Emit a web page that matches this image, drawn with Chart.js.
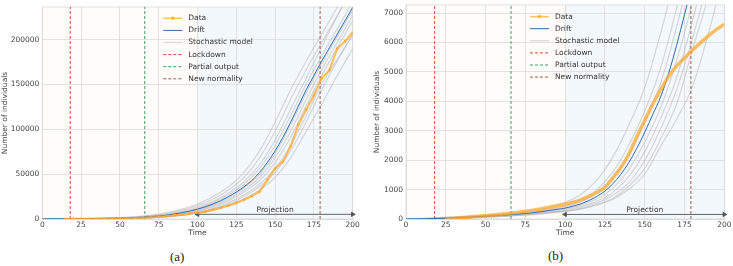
<!DOCTYPE html>
<html>
<head>
<meta charset="utf-8">
<script src="https://cdn.jsdelivr.net/npm/chart.js@4.4.0/dist/chart.umd.min.js"></script>
<style>
body { margin: 0; background: #fff; }
#wrap { position: relative; width: 733px; height: 266px; }
canvas { position: absolute; top: 0; }
.cap { position: absolute; font-family: "Liberation Serif", serif; font-size: 13px; color: #222; }
</style>
</head>
<body>
<div id="wrap">
  <canvas id="chartA" width="366" height="242" style="left:0"></canvas>
  <canvas id="chartB" width="367" height="242" style="left:366px"></canvas>
  <div class="cap" style="left:170px;top:249px">(a)</div>
  <div class="cap" style="left:548px;top:248px">(b)</div>
</div>
<script>
// ---- data ----
const xTicks = [0, 25, 50, 75, 100, 125, 150, 175, 200];
const yTicksA = [0, 50000, 100000, 150000, 200000];
const yTicksB = [0, 1000, 2000, 3000, 4000, 5000, 6000, 7000];

const lockdownDay = 18;
const partialDay = 66;
const normalityDay = 179;
const projectionFrom = 100;
const projectionTo = 200;

const times5 = [0,5,10,15,20,25,30,35,40,45,50,55,60,65,70,75,80,85,90,95,100,
  105,110,115,120,125,130,135,140,145,150,155,160,165,170,175,180,185,190,195,200];
const times10 = [0,10,20,30,40,50,60,70,80,90,100,110,120,130,140,150,160,170,180,190,200];

// panel (a)
const driftA = [20,50,90,130,180,240,320,420,550,700,900,1150,1500,2000,2600,3300,4300,5500,7000,8800,11000,
  13600,16800,20500,25000,30000,36000,43000,52000,63000,76000,91000,108000,126000,144000,160000,176000,191000,206000,221000,236000];
const dataTimesA = [15,20,25,30,35,40,45,50,55,60,65,70,75,80,85,90,95,100,105,110,115,120,125,130,135,140,
  145,150,155,160,165,170,175,180,185,190,195,200];
const dataA = [0,50,100,150,200,300,400,550,750,1000,1400,1900,2500,3200,4000,4900,5900,7000,8300,10200,
  12500,15000,18000,21500,25500,30500,43500,56500,64000,81000,105000,122000,138000,157000,166000,190000,198000,208000];
const stochA = [
  [90,180,320,550,900,1500,2600,4300,7000,11000,16800,25000,36000,52000,76000,108000,144000,176000,206000,236000,266000],
  [66,150,270,470,780,1290,2240,3700,6100,9700,14900,22300,32400,46600,68200,97800,133200,166400,197000,227000,257000],
  [44,122,228,400,670,1100,1900,3160,5260,8440,13080,19760,29000,41600,60800,88000,122400,156800,192000,226000,260000],
  [32,106,204,372,610,1000,1700,2880,4780,7720,12040,18280,27000,38800,56400,82000,115200,150400,182000,212000,242000],
  [0,82,168,300,520,860,1430,2480,4100,6700,10500,16100,24000,34800,49800,73000,104600,140400,173000,203000,233000],
  [0,66,150,270,470,780,1290,2240,3700,6100,9700,14900,22300,32400,46600,68200,97800,133200,166400,197000,227000],
  [0,50,130,240,420,700,1150,2000,3300,5500,8800,13600,20500,30000,43000,63000,91000,126000,160000,191000,221000],
  [0,30,110,200,370,610,1050,1800,2900,4800,7700,12000,18300,27000,38800,56400,82000,115000,150400,178000,205000],
  [0,20,90,180,320,550,900,1500,2600,4300,7000,11000,16800,25000,36000,52000,76000,108000,144000,176000,206000],
  [0,0,70,160,300,510,850,1500,2320,4000,6100,9900,14900,22300,32400,46600,68200,97800,128000,160000,190000]
];

// panel (b)
const driftB = [0,2,5,12,20,30,45,57,70,82,95,110,125,145,165,190,215,250,290,330,370,
  440,520,630,770,950,1200,1520,1920,2400,2950,3550,4150,4950,5900,6950,8000,9200,10500,12000,13500];
const dataTimesB = [25,30,35,40,45,50,55,60,65,70,75,80,85,90,95,100,105,110,115,120,125,130,135,140,
  145,150,155,160,165,170,175,180,185,190,195,200];
const dataB = [0,20,45,65,90,115,140,165,195,225,260,300,350,400,450,500,570,660,770,910,1080,1400,1750,2200,
  2800,3350,3900,4400,4850,5200,5480,5740,5990,6230,6440,6620];
const stochB = [
  [8,24,50,75,101,133,175,229,306,398,564,842,1328,2112,3190,4470,6320,8480,11000,14000,17000],
  [3,13,36,60,84,113,149,198,257,338,456,658,1000,1600,2510,3670,5140,7160,9460,12300,15000],
  [1,9,26,50,77,104,137,180,236,314,412,586,878,1390,2160,3310,4630,6530,8700,11400,14400],
  [0,3,15,39,65,87,116,157,200,266,346,472,686,1050,1680,2620,3790,5380,7370,9700,12600],
  [0,1,10,29,55,80,107,141,184,241,314,426,608,906,1440,2290,3430,4790,6740,8960,11700],
  [0,0,6,22,47,72,98,131,170,222,282,381,539,806,1236,1990,3070,4390,6140,8200,10800],
  [0,0,3,16,40,65,92,121,160,209,266,343,494,702,1120,1720,2720,3900,5760,7600,10000],
  [0,0,2,12,35,62,88,121,151,206,259,340,475,670,1010,1530,2470,3390,4500,6300,8400]
];

// ---- helpers ----
const pts = (ts, vs) => vs.map((v, i) => ({ x: ts[i], y: v }));
const FONT = 'DejaVu Sans';
const FSIZE = 7.5;
const TEXT = '#444';
const GRID = '#dadada';

const decor = {
  id: 'decor',
  beforeDraw(chart) {
    const { ctx, chartArea: a, scales: { x } } = chart;
    const mid = x.getPixelForValue(projectionFrom);
    ctx.save();
    ctx.fillStyle = 'rgba(255,228,205,0.12)';
    ctx.fillRect(a.left, a.top, mid - a.left, a.bottom - a.top);
    ctx.fillStyle = 'rgba(195,222,243,0.2)';
    ctx.fillRect(mid, a.top, a.right - mid, a.bottom - a.top);
    ctx.restore();
  },
  beforeDatasetsDraw(chart) {
    const { ctx, chartArea: a } = chart;
    ctx.save();
    ctx.strokeStyle = GRID;
    ctx.lineWidth = 0.8;
    ctx.strokeRect(a.left, a.top, a.right - a.left, a.bottom - a.top);
    ctx.restore();
  },
  afterDatasetsDraw(chart, args, o) {
    const { ctx, chartArea: a, scales: { x, y } } = chart;
    ctx.save();
    // projection label
    ctx.font = FSIZE + 'px "' + FONT + '"';
    ctx.fillStyle = '#333';
    ctx.textAlign = 'center';
    ctx.textBaseline = 'middle';
    ctx.fillText('Projection', x.getPixelForValue((projectionFrom + projectionTo) / 2), y.getPixelForValue(o.level) - 4.5);
    // legend inside the axes
    let row = 0;
    chart.data.datasets.forEach(ds => {
      if (!ds.label) return;
      const lx = a.left + o.legendX;
      const ly = a.top + o.legendY + row * 12.1;
      ctx.strokeStyle = ds.borderColor;
      ctx.lineWidth = ds.legendWidth || ds.borderWidth;
      ctx.setLineDash(ds.borderDash || []);
      ctx.beginPath();
      ctx.moveTo(lx, ly);
      ctx.lineTo(lx + 19, ly);
      ctx.stroke();
      ctx.setLineDash([]);
      if (ds.legendMarker) {
        ctx.fillStyle = ds.borderColor;
        ctx.beginPath();
        ctx.arc(lx + 9.5, ly, 1.8, 0, Math.PI * 2);
        ctx.fill();
      }
      ctx.fillStyle = '#333';
      ctx.textAlign = 'left';
      ctx.fillText(ds.label, lx + 25, ly);
      row++;
    });
    ctx.restore();
  }
};

function makeChart(id, p) {
  const sets = [];
  sets.push({ label: 'Data', data: pts(p.dataT, p.dataV), borderColor: 'rgba(255,168,40,0.72)',
    backgroundColor: 'rgba(255,168,40,0.72)', borderWidth: p.dataWidth, legendWidth: 1.5,
    pointRadius: p.dataRadius, pointBorderWidth: 0, legendMarker: true,
    cubicInterpolationMode: p.dataSmooth ? 'monotone' : 'default', order: 0 });
  sets.push({ label: 'Drift', data: pts(times5, p.drift), borderColor: '#2d6bb0', borderWidth: 1,
    pointRadius: 0, cubicInterpolationMode: 'monotone', order: 1 });
  p.stoch.forEach((g, i) => sets.push({ label: i === 0 ? 'Stochastic model' : '', data: pts(times10, g),
    borderColor: 'rgba(180,180,180,0.5)', borderWidth: 1.2, pointRadius: 0,
    cubicInterpolationMode: 'monotone', order: 5 }));
  const vline = (label, day, color) => ({ label, data: [{ x: day, y: 0 }, { x: day, y: p.yMax }],
    borderColor: color, borderWidth: 1, borderDash: [3, 2], pointRadius: 0, order: 2 });
  sets.push(vline('Lockdown', lockdownDay, '#e0443a'));
  sets.push(vline('Partial output', partialDay, '#3a9f68'));
  sets.push(vline('New normality', normalityDay, '#9e5a40'));
  sets.push({ label: '', data: [{ x: projectionFrom, y: p.level }, { x: projectionTo, y: p.level }],
    borderColor: '#555', backgroundColor: '#555', borderWidth: 0.9, pointStyle: 'triangle',
    pointRadius: 2.5, pointRotation: [-90, 90], clip: false, order: 3 });

  return new Chart(document.getElementById(id), {
    type: 'line',
    data: { datasets: sets },
    plugins: [decor],
    options: {
      responsive: false,
      devicePixelRatio: 1,
      animation: false,
      events: [],
      layout: { padding: { left: 0, right: p.padRight, top: p.padTop, bottom: 0 } },
      plugins: {
        legend: { display: false },
        tooltip: { enabled: false },
        decor: { level: p.level, legendX: p.legendX, legendY: p.legendY }
      },
      scales: {
        x: {
          type: 'linear', min: 0, max: 200,
          afterBuildTicks: s => { s.ticks = xTicks.map(v => ({ value: v })); },
          afterFit: s => { s.height = 23; s.paddingLeft = 0; s.paddingRight = 0; },
          grid: { color: GRID, lineWidth: 0.8, drawTicks: false },
          border: { color: GRID, width: 0.8 },
          ticks: { padding: 2, color: TEXT, font: { family: FONT, size: FSIZE }, callback: v => String(v) },
          title: { display: true, text: 'Time', color: TEXT, font: { family: FONT, size: FSIZE },
            padding: { top: 0, bottom: 4.5 } }
        },
        y: {
          type: 'linear', min: 0, max: p.yMax,
          afterBuildTicks: s => { s.ticks = p.yTicks.map(v => ({ value: v })); },
          afterFit: s => { s.width = p.yWidth; s.paddingTop = 0; s.paddingBottom = 0; },
          grid: { color: GRID, lineWidth: 0.8, drawTicks: false },
          border: { color: GRID, width: 0.8 },
          ticks: { padding: 3, color: TEXT, font: { family: FONT, size: FSIZE }, callback: v => String(v) },
          title: { display: true, text: 'Number of individuals', color: TEXT,
            font: { family: FONT, size: FSIZE }, padding: { top: p.titlePad, bottom: 0 } }
        }
      }
    }
  });
}

makeChart('chartA', {
  dataT: dataTimesA, dataV: dataA, drift: driftA, stoch: stochA,
  yMax: 236500, yTicks: yTicksA, level: 5200,
  dataWidth: 2.2, dataRadius: 1.4, dataSmooth: false,
  padTop: 7, padRight: 13.3, yWidth: 42.3, titlePad: 0.5,
  legendX: 121, legendY: 11.3
});

makeChart('chartB', {
  dataT: dataTimesB, dataV: dataB, drift: driftB, stoch: stochB,
  yMax: 7280, yTicks: yTicksB, level: 155,
  dataWidth: 3.5, dataRadius: 0, dataSmooth: true,
  padTop: 1, padRight: 8.7, yWidth: 40, titlePad: 6.5,
  legendX: 124, legendY: 11.7
});
</script>
</body>
</html>
